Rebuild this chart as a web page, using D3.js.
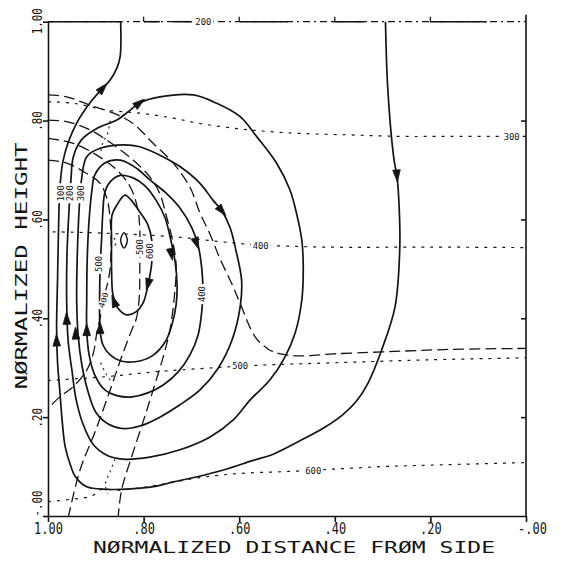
<!DOCTYPE html>
<html><head><meta charset="utf-8">
<script src="https://cdn.jsdelivr.net/npm/d3@7"></script>
<style>body{margin:0;background:#fff}</style></head>
<body><svg id="c" width="564" height="561"></svg>
<script>
// ---------------- DATA (normalized distance, normalized height) ----------------
const xTicks=[1.0,0.8,0.6,0.4,0.2,0.0];
const xTickLabels=["1.00",".80",".60",".40",".20","-.00"];
const yTicks=[0.0,0.2,0.4,0.6,0.8,1.0];
const yTickLabels=["-.00",".20",".40",".60",".80","1.00"];
const xTitle="NØRMALIZED DISTANCE FRØM SIDE";
const yTitle="NØRMALIZED HEIGHT";

// solid streamlines (levels 100..600)
const stream100=[[0.848,1.0],[0.849,0.93],[0.856,0.906],[0.870,0.882],[0.885,0.866],[0.912,0.836],[0.940,0.795],[0.958,0.755],[0.969,0.716],[0.975,0.666],[0.978,0.58],[0.980,0.48],[0.982,0.38],[0.980,0.31],[0.975,0.25],[0.971,0.20],[0.964,0.14],[0.952,0.10],[0.943,0.08],[0.919,0.059],[0.877,0.054],[0.849,0.054],[0.776,0.060],[0.738,0.069],[0.685,0.080],[0.633,0.093],[0.572,0.112],[0.529,0.125],[0.473,0.152],[0.420,0.180],[0.383,0.205],[0.355,0.232],[0.331,0.268],[0.302,0.336],[0.274,0.423],[0.264,0.545],[0.266,0.638],[0.270,0.688],[0.276,0.72],[0.289,0.862],[0.294,1.0]];
const stream200=[[0.952,0.680],[0.947,0.727],[0.930,0.761],[0.898,0.784],[0.856,0.801],[0.832,0.818],[0.808,0.836],[0.766,0.848],[0.696,0.852],[0.647,0.835],[0.598,0.808],[0.563,0.767],[0.522,0.714],[0.494,0.660],[0.480,0.612],[0.469,0.558],[0.466,0.504],[0.469,0.437],[0.483,0.370],[0.504,0.322],[0.536,0.275],[0.577,0.235],[0.613,0.194],[0.661,0.160],[0.724,0.134],[0.787,0.119],[0.843,0.115],[0.877,0.123],[0.905,0.144],[0.926,0.184],[0.941,0.235],[0.950,0.295],[0.958,0.356],[0.961,0.437],[0.960,0.538],[0.956,0.619]];
const stream300=[[0.930,0.680],[0.919,0.727],[0.891,0.744],[0.842,0.751],[0.808,0.747],[0.766,0.730],[0.724,0.707],[0.682,0.673],[0.655,0.639],[0.636,0.617],[0.619,0.583],[0.607,0.538],[0.595,0.477],[0.598,0.423],[0.615,0.356],[0.644,0.299],[0.682,0.255],[0.724,0.225],[0.766,0.200],[0.808,0.182],[0.845,0.177],[0.874,0.186],[0.900,0.210],[0.916,0.251],[0.929,0.305],[0.937,0.366],[0.940,0.437],[0.939,0.518],[0.936,0.599],[0.933,0.649]];
const stream400=[[0.849,0.720],[0.814,0.703],[0.787,0.680],[0.755,0.655],[0.724,0.623],[0.699,0.583],[0.686,0.548],[0.678,0.498],[0.676,0.457],[0.678,0.417],[0.686,0.366],[0.703,0.326],[0.728,0.291],[0.759,0.265],[0.791,0.249],[0.824,0.241],[0.854,0.243],[0.881,0.255],[0.902,0.285],[0.914,0.326],[0.919,0.376],[0.919,0.437],[0.918,0.518],[0.914,0.599],[0.908,0.660],[0.902,0.690],[0.881,0.714]];
const stream500=[[0.849,0.689],[0.822,0.684],[0.797,0.668],[0.774,0.639],[0.755,0.603],[0.743,0.558],[0.734,0.514],[0.730,0.467],[0.732,0.427],[0.741,0.386],[0.755,0.352],[0.782,0.324],[0.818,0.312],[0.849,0.314],[0.870,0.326],[0.885,0.346],[0.891,0.376],[0.892,0.437],[0.891,0.498],[0.888,0.558],[0.885,0.619],[0.881,0.655],[0.870,0.676]];
const stream600=[[0.839,0.649],[0.856,0.629],[0.866,0.609],[0.867,0.558],[0.867,0.498],[0.864,0.447],[0.854,0.421],[0.835,0.407],[0.816,0.413],[0.801,0.431],[0.790,0.471],[0.783,0.512],[0.783,0.558],[0.791,0.589],[0.808,0.615],[0.826,0.639]];
const streamCenter=[[0.841,0.573],[0.834,0.558],[0.841,0.542],[0.848,0.558]];

// long-dashed family
const dashA=[[1.0,0.852],[0.961,0.848],[0.912,0.831],[0.863,0.815],[0.822,0.794],[0.780,0.754],[0.738,0.714],[0.703,0.665],[0.682,0.613],[0.661,0.570],[0.640,0.520],[0.616,0.471],[0.598,0.430],[0.567,0.363],[0.540,0.338],[0.518,0.329],[0.473,0.324],[0.403,0.328],[0.299,0.332],[0.159,0.337],[0.0,0.339]];
const dashB=[[1.0,0.801],[0.961,0.798],[0.912,0.781],[0.863,0.751],[0.822,0.720],[0.787,0.686],[0.766,0.652],[0.753,0.609],[0.740,0.560],[0.732,0.508],[0.735,0.45],[0.745,0.376],[0.759,0.322],[0.780,0.255],[0.800,0.194],[0.825,0.12],[0.846,0.053],[0.853,0.0]];
const dashC=[[1.0,0.764],[0.947,0.754],[0.898,0.730],[0.856,0.700],[0.828,0.666],[0.812,0.62],[0.808,0.58],[0.808,0.50],[0.809,0.444],[0.815,0.40],[0.825,0.376],[0.846,0.322],[0.870,0.255],[0.900,0.174],[0.933,0.093],[0.957,0.0]];
const dashD=[[1.0,0.720],[0.961,0.714],[0.919,0.693],[0.891,0.673],[0.876,0.640],[0.870,0.60],[0.868,0.55],[0.870,0.50],[0.874,0.477],[0.884,0.437],[0.891,0.40],[0.898,0.37],[0.905,0.33],[0.919,0.295],[0.947,0.262],[0.975,0.241],[1.0,0.218]];

// short-dashed horizontal family (levels 200..600)
const iso200=[[1.0,1.0],[0.0,1.0]];
const iso300=[[1.0,0.838],[0.947,0.835],[0.877,0.821],[0.808,0.815],[0.738,0.805],[0.682,0.794],[0.577,0.781],[0.473,0.774],[0.368,0.771],[0.264,0.768],[0.159,0.768],[0.0,0.768]];
const iso400=[[0.99,0.575],[0.877,0.572],[0.738,0.565],[0.64,0.555],[0.57,0.549],[0.42,0.544],[0.2,0.544],[0.0,0.543]];
const iso500=[[1.0,0.274],[0.877,0.282],[0.773,0.292],[0.668,0.299],[0.56,0.305],[0.40,0.31],[0.2,0.316],[0.0,0.32]];
const iso600=[[1.0,0.029],[0.95,0.034],[0.91,0.040],[0.885,0.055],[0.86,0.052],[0.80,0.058],[0.74,0.068],[0.68,0.078],[0.60,0.086],[0.50,0.090],[0.40,0.095],[0.30,0.100],[0.20,0.103],[0.0,0.108]];
const dotBits=[[[0.86,0.115],[0.87,0.09],[0.88,0.065],[0.875,0.045]],[[0.862,0.562],[0.857,0.553],[0.861,0.547]],[[0.87,0.80],[0.875,0.775],[0.885,0.755],[0.89,0.735]],[[0.89,0.31],[0.88,0.29],[0.87,0.275]]];

// contour labels
const streamLabels=[["100",0.973,0.653],["200",0.954,0.653],["300",0.931,0.653],["400",0.678,0.449],["500",0.894,0.51],["600",0.787,0.536]];
const dashLabels=[["500",0.808,0.544],["400",0.884,0.437]];
const isoLabels=[["200",0.675,1.0],["300",0.03,0.767],["400",0.555,0.546],["500",0.598,0.303],["600",0.445,0.091]];

// flow arrows: [streamline index, x, y, sense along stored order]
const arrowMarks=[[0,0.885,0.866,-1],[0,0.982,0.356,-1],[0,0.270,0.688,-1],
 [1,0.808,0.836,1],[1,0.961,0.40,1],
 [2,0.636,0.617,1],[2,0.942,0.370,1],
 [3,0.689,0.551,1],[3,0.919,0.377,1],
 [4,0.742,0.529,1],[4,0.891,0.381,1],
 [5,0.791,0.468,-1],[5,0.862,0.435,-1]];

// ---------------- DRAWING ----------------
const svg=d3.select("#c");
const x=d3.scaleLinear().domain([1,0]).range([48,526]);
const y=d3.scaleLinear().domain([0,1]).range([516,21.7]);
const ink="#141414";
const FONT="'DejaVu Sans Mono', monospace";

svg.append("defs").append("clipPath").attr("id","clip").append("rect")
  .attr("x",x(1)).attr("y",y(1)-1).attr("width",x(0)-x(1)).attr("height",y(0)-y(1)+2);
const plot=svg.append("g").attr("clip-path","url(#clip)");

const lineOpen=d3.line().x(d=>x(d[0])).y(d=>y(d[1])).curve(d3.curveCatmullRom.alpha(0.5));
const lineClosed=d3.line().x(d=>x(d[0])).y(d=>y(d[1])).curve(d3.curveCatmullRomClosed.alpha(0.5));
const lineLin=d3.line().x(d=>x(d[0])).y(d=>y(d[1]));

// short-dashed family
[iso300,iso400,iso500,iso600].forEach(d=>{
  plot.append("path").attr("d",lineOpen(d)).attr("fill","none").attr("stroke",ink)
   .attr("stroke-width",1.2).attr("stroke-dasharray","3,6");
});
dotBits.forEach(d=>{
  plot.append("path").attr("d",lineOpen(d)).attr("fill","none").attr("stroke",ink)
   .attr("stroke-width",1.1).attr("stroke-dasharray","2,4");
});
// long dashed
[dashA,dashB,dashC,dashD].forEach(d=>{
  plot.append("path").attr("d",lineOpen(d)).attr("fill","none").attr("stroke",ink)
   .attr("stroke-width",1.3).attr("stroke-dasharray","11,5");
});
// solid streamlines
const streams=[stream100,stream200,stream300,stream400,stream500,stream600];
streams.forEach((d,i)=>{
  plot.append("path").attr("d",i===0?lineOpen(d):lineClosed(d)).attr("fill","none")
   .attr("stroke",ink).attr("stroke-width",1.7);
});
plot.append("path").attr("d",lineClosed(streamCenter)).attr("fill","none").attr("stroke",ink).attr("stroke-width",1.4);

// arrows
arrowMarks.forEach(([si,ax,ay,sense])=>{
  const pts=streams[si].map(p=>[x(p[0]),y(p[1])]);
  const P=[x(ax),y(ay)];
  const closed=si>0;
  const n=pts.length, m=closed?n:n-1;
  let best=1e9,bi=0;
  for(let i=0;i<m;i++){
    const a=pts[i],b=pts[(i+1)%n];
    const vx=b[0]-a[0],vy=b[1]-a[1];
    let t=((P[0]-a[0])*vx+(P[1]-a[1])*vy)/(vx*vx+vy*vy);t=Math.max(0,Math.min(1,t));
    const qx=a[0]+t*vx,qy=a[1]+t*vy,dd=(qx-P[0])**2+(qy-P[1])**2;
    if(dd<best){best=dd;bi=i;}
  }
  const a=pts[bi],b=pts[(bi+1)%n];
  let dx=(b[0]-a[0])*sense,dy=(b[1]-a[1])*sense;const L=Math.hypot(dx,dy);dx/=L;dy/=L;
  const px=-dy,py=dx;
  const tip=[P[0]+dx*6,P[1]+dy*6],b1=[P[0]-dx*6+px*3.8,P[1]-dy*6+py*3.8],b2=[P[0]-dx*6-px*3.8,P[1]-dy*6-py*3.8];
  plot.append("path").attr("d",`M${tip}L${b1}L${b2}Z`).attr("fill",ink).attr("stroke",ink).attr("stroke-width",0.8);
});

// contour labels
function clabel(t,vx,vy,rot){
  const g=svg.append("g").attr("transform",`translate(${x(vx)},${y(vy)}) rotate(${rot})`);
  g.append("rect").attr("x",-10).attr("y",-3.5).attr("width",20).attr("height",7).attr("fill","#fff");
  g.append("text").text(t).attr("text-anchor","middle").attr("y",3).attr("font-family",FONT)
   .attr("font-size",8).attr("textLength",16).attr("lengthAdjust","spacingAndGlyphs").attr("fill",ink);
}

// frame: bottom, left, right axes
const gx=svg.append("g").attr("transform",`translate(0,${y(0)})`)
  .call(d3.axisBottom(x).tickValues(xTicks).tickFormat((d,i)=>xTickLabels[i]).tickSize(6).tickSizeOuter(0));
const gy=svg.append("g").attr("transform",`translate(${x(1)},0)`)
  .call(d3.axisLeft(y).tickValues(yTicks).tickFormat((d,i)=>yTickLabels[i]).tickSize(5).tickSizeOuter(0));
const gr=svg.append("g").attr("transform",`translate(${x(0)},0)`)
  .call(d3.axisLeft(y).tickValues(yTicks.slice(1,5)).tickFormat("").tickSize(5).tickSizeOuter(0));
[gx,gy,gr].forEach(g=>{g.selectAll("path,line").attr("stroke",ink).attr("stroke-width",1.6);});
gr.select(".domain").attr("d",`M0,${y(0)}V${y(1)-7}`);
gx.selectAll(".tick text").attr("y",18).attr("dy",0).attr("x",(d,i)=>i===5?6:0)
  .attr("font-family",FONT).attr("font-size",15).attr("fill",ink)
  .attr("textLength",(d,i)=>xTickLabels[i].length*7.2).attr("lengthAdjust","spacingAndGlyphs");
gy.selectAll(".tick text").attr("transform","rotate(-90)").attr("text-anchor","middle")
  .attr("x",d=>d===1?1:(d===0?13:0)).attr("y",-6).attr("dy",0)
  .attr("font-family",FONT).attr("font-size",13.5).attr("fill",ink)
  .attr("textLength",(d,i)=>yTickLabels[i].length*6.5).attr("lengthAdjust","spacingAndGlyphs");

// top border: the 200 isoline along the top with solid pieces and outward ticks
svg.append("path").attr("d",lineLin(iso200)).attr("stroke",ink).attr("stroke-width",1.2)
  .attr("stroke-dasharray","7,4,2,4").attr("fill","none");
const topSolid=[[1.0,0.847],[0.799,0.766],[0.738,0.699],[0.598,0.498],[0.404,0.337],[0.201,0.082]];
topSolid.forEach(s=>svg.append("path").attr("d",lineLin([[s[0],1],[s[1],1]])).attr("stroke",ink).attr("stroke-width",1.6));
[0.8,0.6,0.4,0.2].forEach(v=>svg.append("line").attr("x1",x(v)).attr("x2",x(v)).attr("y1",y(1)).attr("y2",y(1)-5).attr("stroke",ink).attr("stroke-width",1.3));

streamLabels.forEach(l=>clabel(l[0],l[1],l[2],-90));
dashLabels.forEach((l,i)=>clabel(l[0],l[1],l[2],i===1?-72:-90));
isoLabels.forEach(l=>clabel(l[0],l[1],l[2],0));

// titles
svg.append("text").text(xTitle).attr("x",294).attr("y",553).attr("text-anchor","middle")
  .attr("font-family",FONT).attr("font-size",16).attr("fill",ink)
  .attr("textLength",402).attr("lengthAdjust","spacingAndGlyphs");
svg.append("text").text(yTitle).attr("transform","translate(27,266) rotate(-90)").attr("text-anchor","middle")
  .attr("font-family",FONT).attr("font-size",16).attr("fill",ink)
  .attr("textLength",247).attr("lengthAdjust","spacingAndGlyphs");
</script>
</body></html>
